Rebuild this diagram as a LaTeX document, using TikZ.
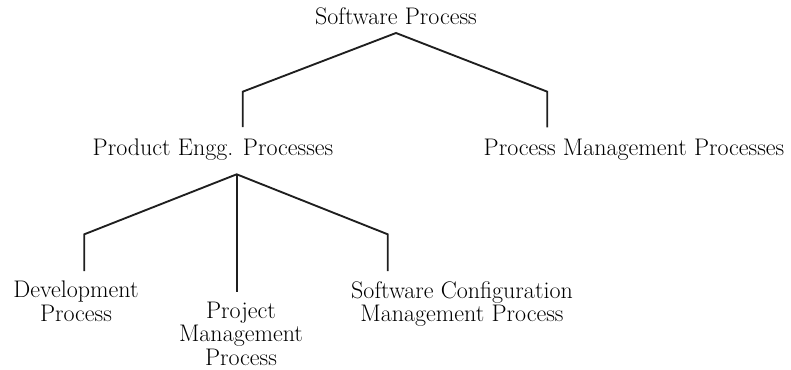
\documentclass[tikz,border=0pt]{standalone}
\usetikzlibrary{calc}
\begin{document}
\begin{tikzpicture}[x=0.75pt,y=-0.75pt,
  txt/.style={font=\fontsize{18}{17.5}\selectfont, align=center, inner sep=0pt},
  link/.style={line width=1.4pt, draw=black!88, line join=miter}]
\useasboundingbox (0,0) rectangle (791,370);
% text nodes
\node[txt, anchor=base] (sp) at (396,25) {Software Process};
\node[txt, anchor=base] (pe) at (213,156) {Product Engg. Processes};
\node[txt, anchor=base] (pm) at (634,156) {Process Management Processes};
\node[txt, anchor=north] (dp) at (76,281) {Development\\Process};
\node[txt, anchor=north] (pj) at (241,302) {Project\\Management\\Process};
\node[txt, anchor=north] (sc) at (462,281) {Software Configuration\\Management Process};
% joints
\coordinate (a1) at ($(sp.base)+(0,8)$);
\coordinate (l1) at (242.7,91.7);
\coordinate (r1) at (547.3,91.7);
\coordinate (a2) at (236.7,174.3);
\coordinate (l2) at (84.3,234.3);
\coordinate (r2) at (387.7,234.3);
% connectors
\draw[link] ($(l1 |- pe.north)+(0,-12)$) -- (l1) -- (a1) -- (r1) -- ($(r1 |- pm.north)+(0,-12)$);
\draw[link] ($(l2 |- dp.north)+(0,-10)$) -- (l2) -- (a2) -- (r2) -- ($(r2 |- sc.north)+(0,-10)$);
\draw[link] (a2) -- ($(a2 |- pj.north)+(0,-10)$);
\end{tikzpicture}
\end{document}
